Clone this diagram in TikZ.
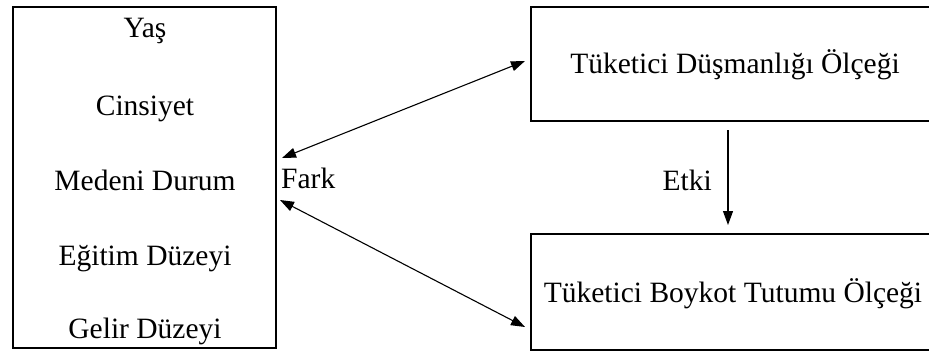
\documentclass[tikz,border=0pt]{standalone}
\usepackage{fontspec}
\setmainfont{Liberation Serif}
\usetikzlibrary{arrows.meta}
\begin{document}
\begin{tikzpicture}[x=1pt,y=-1pt,
  box/.style={draw,line width=1.4pt,inner sep=0pt},
  lbl/.style={anchor=base,inner sep=0pt,font=\fontsize{29.5}{35}\selectfont},
  link/.style={line width=1.1pt,-{Triangle[length=14pt,width=10pt]}},
  both/.style={line width=1.1pt,{Triangle[length=14pt,width=10pt]}-{Triangle[length=14pt,width=10pt]}}]
\useasboundingbox (0,0) rectangle (929,351);
\begin{scope}
\clip (0,0) rectangle (929,351);
% left box with the demographic variables
\node[box,minimum width=263pt,minimum height=341pt] (demo) at (144.5,177.5) {};
% right boxes (their right edges run past the frame)
\node[box,minimum width=408pt,minimum height=114pt] (dus) at (735,64) {};
\node[box,minimum width=408pt,minimum height=116pt] (boy) at (735,292) {};
\end{scope}
\node[lbl] (yas) at (145,37) {Yaş};
\node[lbl] (cin) at (145,115) {Cinsiyet};
\node[lbl] (med) at (145,190) {Medeni Durum};
\node[lbl] (egi) at (145,265) {Eğitim Düzeyi};
\node[lbl] (gel) at (145,338) {Gelir Düzeyi};
\node[lbl] (dust) at (735,73) {Tüketici Düşmanlığı Ölçeği};
\node[lbl] (boyt) at (733,302) {Tüketici Boykot Tutumu Ölçeği};
\node[lbl,anchor=base west] (fark) at (281,188) {Fark};
\node[lbl,anchor=base east] (etki) at (712,190) {Etki};
% arrow end points
\coordinate (fa1) at (282,158);
\coordinate (fa2) at (525,61);
\coordinate (fb1) at (280,200);
\coordinate (fb2) at (525,327);
\coordinate (ea) at (728,130);
\coordinate (eb) at (728,225);
\draw[both] (fa1) -- (fa2);
\draw[both] (fb1) -- (fb2);
\draw[link] (ea) -- (eb);
\end{tikzpicture}
\end{document}
